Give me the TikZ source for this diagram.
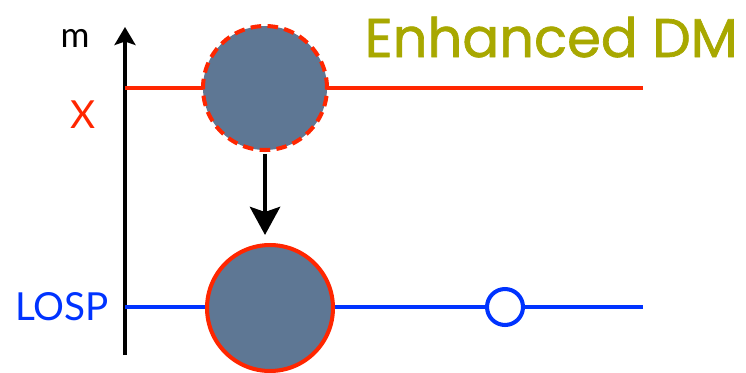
\documentclass[tikz,border=0pt]{standalone}
\usepackage{fontspec}
\newfontfamily\labelfont{Lato}
\newfontfamily\titlefont[FakeBold=1.2]{Poppins}
\usetikzlibrary{arrows.meta}

\definecolor{xred}{RGB}{255,38,0}
\definecolor{lospblue}{RGB}{0,51,255}
\definecolor{olive}{RGB}{168,168,0}
\definecolor{slate}{RGB}{94,119,148}

\tikzset{
  level/.style={line width=2.3pt},
  blob/.style={circle,fill=slate,inner sep=0pt},
  lab/.style={inner sep=0pt,font=\labelfont\fontsize{22}{26}\selectfont},
}

\begin{document}
\begin{tikzpicture}[x=0.02cm,y=-0.02cm]
\useasboundingbox (0,0) rectangle (746,372);

% mass axis
\coordinate (base) at (125,355);
\coordinate (tip) at (125,27);
\draw[line width=1.9pt,-{Stealth[length=0.36cm,width=0.42cm,inset=0.07cm]}] (base) -- (tip);
\node[lab,font=\labelfont\fontsize{20}{24}\selectfont] (mlab) at (75,38) {m};

% the two levels
\coordinate (xstart) at (125,88);
\coordinate (xend) at (643,88);
\coordinate (lstart) at (125,307);
\coordinate (lend) at (643,307);
\draw[level,xred] (xstart) -- (xend);
\draw[level,lospblue] (lstart) -- (lend);
\node[lab,text=xred] (xlab) at (83,115) {X};
\node[lab,text=lospblue] (losplab) at (62,307) {LOSP};

% states on the levels
\node[blob,draw=xred,line width=2.3pt,dash pattern=on 6pt off 3.6pt,minimum size=2.48cm] (heavy) at (265,88) {};
\node[blob,draw=xred,line width=2.3pt,minimum size=2.52cm] (light) at (270,308) {};
\node[circle,draw=lospblue,fill=white,line width=2.3pt,inner sep=0pt,minimum size=0.72cm] (extra) at (505,307) {};

% decay
\draw[line width=2.8pt,-{Stealth[length=0.56cm,width=0.6cm,inset=0.1cm]},shorten <=0.04cm,shorten >=0.16cm]
  (heavy.south) -- (heavy.south |- light.north);

\node[anchor=base east,inner sep=0pt,text=olive,font=\titlefont\fontsize{31}{36}\selectfont] (title) at (738,57) {Enhanced DM};
\end{tikzpicture}
\end{document}
